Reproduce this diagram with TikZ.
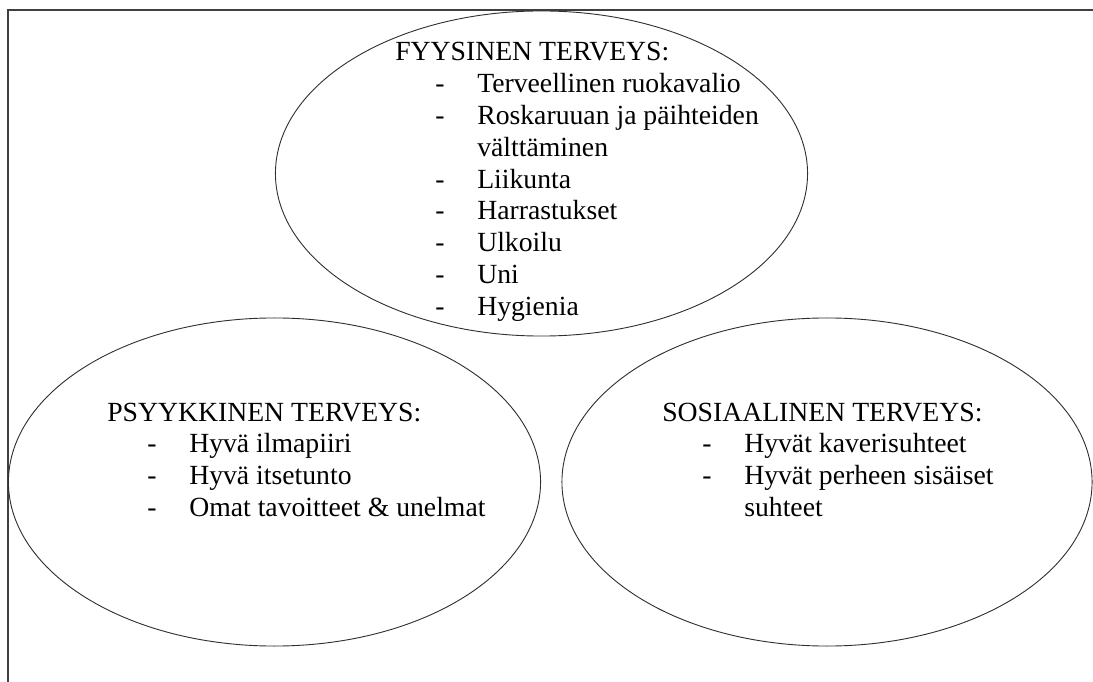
\documentclass[tikz,border=0pt]{standalone}
\usepackage{fontspec}
\setmainfont{Liberation Serif}
\usepackage{tikz}
\usetikzlibrary{shapes.geometric}
\definecolor{framegray}{HTML}{404040}
\definecolor{ringgray}{HTML}{303030}
\newcommand{\kohta}[1]{\makebox[2.05cm][l]{\hspace{1.0cm}-}#1}
\newcommand{\jatko}[1]{\hspace*{2.05cm}#1}
\tikzset{
  ring/.style={ellipse,draw=ringgray,line width=0.65pt,inner sep=0pt,minimum width=13.3cm,minimum height=8.2cm},
  lista/.style={anchor=base west,inner sep=0pt,font=\fontsize{19.7}{22.6}\selectfont},
  reuna/.style={draw=framegray,line width=1.2pt}
}
\begin{document}
\begin{tikzpicture}[x=0.025cm,y=-0.025cm]
  \useasboundingbox (0,0) rectangle (1093,682);
  \draw[reuna] (8,682) -- (8,10) -- (1093,10);
  \node[ring,minimum height=8.125cm] (fyysinen) at (541.5,173.5) {};
  \node[ring] (psyykkinen) at (274.5,482) {};
  \node[ring,minimum width=13.25cm] (sosiaalinen) at (827,482) {};
  \node[lista] (fyysinenteksti) at (395,61) {\begin{tabular}[t]{@{}l@{}}
    FYYSINEN TERVEYS:\\
    \kohta{Terveellinen ruokavalio}\\
    \kohta{Roskaruuan ja päihteiden}\\
    \jatko{välttäminen}\\
    \kohta{Liikunta}\\
    \kohta{Harrastukset}\\
    \kohta{Ulkoilu}\\
    \kohta{Uni}\\
    \kohta{Hygienia}
  \end{tabular}};
  \node[lista] (psyykkinenteksti) at (107,421) {\begin{tabular}[t]{@{}l@{}}
    PSYYKKINEN TERVEYS:\\
    \kohta{Hyvä ilmapiiri}\\
    \kohta{Hyvä itsetunto}\\
    \kohta{Omat tavoitteet \& unelmat}
  \end{tabular}};
  \node[lista] (sosiaalinenteksti) at (662,421) {\begin{tabular}[t]{@{}l@{}}
    SOSIAALINEN TERVEYS:\\
    \kohta{Hyvät kaverisuhteet}\\
    \kohta{Hyvät perheen sisäiset}\\
    \jatko{suhteet}
  \end{tabular}};
\end{tikzpicture}
\end{document}
